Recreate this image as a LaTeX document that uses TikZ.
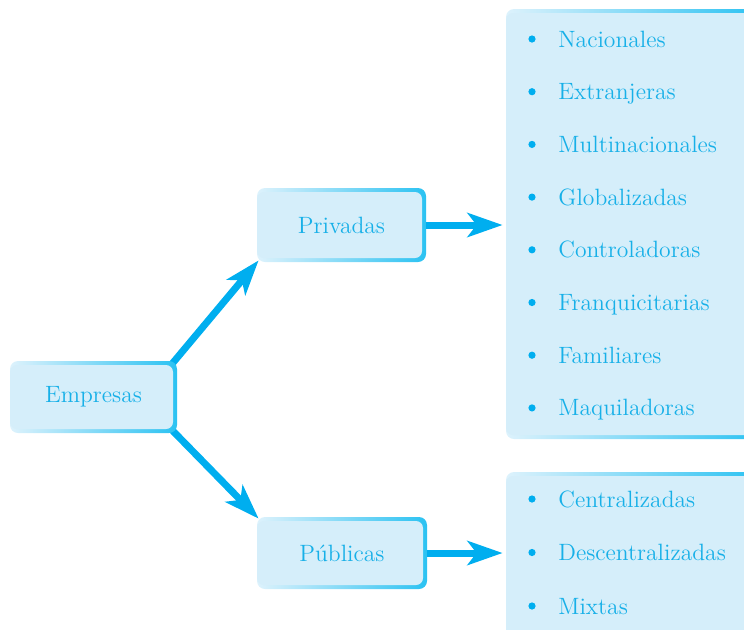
\documentclass[tikz,border=0pt]{standalone}
\usetikzlibrary{arrows.meta,backgrounds}
\definecolor{cyantxt}{HTML}{17B0E8}
\definecolor{arrowc}{HTML}{00AEEF}
\definecolor{boxfill}{HTML}{D5EEFA}
\definecolor{edgelight}{HTML}{DDF2FC}
\definecolor{edgedark}{HTML}{2BC2F2}
\tikzset{
  shadowbox/.style={rounded corners=4pt, inner sep=0pt,
    left color=edgelight, right color=edgedark,
    path picture={\fill[boxfill, rounded corners=3.5pt]
      ([yshift=2pt]path picture bounding box.south west) rectangle
      ([xshift=-2pt,yshift=-2pt]path picture bounding box.north east);},
    text=cyantxt, font=\fontsize{11.8}{14}\selectfont},
  itemtext/.style={anchor=base west, inner sep=0pt, text=cyantxt,
    font=\fontsize{11.8}{14}\selectfont},
  bulletdot/.style={circle, fill=arrowc, inner sep=0pt, minimum size=3.6pt},
  arr/.style={draw=arrowc, line width=3.5pt,
    -{Stealth[length=17.5pt, width=12pt, inset=4.5pt]}}
}
\begin{document}
\begin{tikzpicture}[x=0.5pt,y=-0.5pt]
\useasboundingbox (0,0) rectangle (744,629);
\clip (0,0) rectangle (744,629);
% boxes
\node[shadowbox, minimum width=83.5pt, minimum height=36pt] (emp) at (93.5,397) {Empresas};
\node[shadowbox, minimum width=84.5pt, minimum height=37pt] (priv) at (341.5,225) {Privadas};
\node[shadowbox, minimum width=85pt, minimum height=36pt] (pub) at (342,553) {Públicas};
\node[shadowbox, minimum width=127pt, minimum height=215pt] (listpriv) at (633,224) {};
\node[shadowbox, minimum width=127pt, minimum height=89pt] (listpub) at (633,561) {};
% connectors
\begin{scope}[on background layer]
\draw[arr] ([xshift=-3pt,yshift=-2pt]emp.north east) -- ([xshift=1pt,yshift=1pt]priv.south west);
\draw[arr] ([xshift=-3pt,yshift=2pt]emp.south east) -- ([xshift=1pt,yshift=-1pt]pub.north west);
\end{scope}
\draw[arr, shorten >=1.5pt] (priv.east) -- (priv.east -| listpriv.west);
\draw[arr, shorten >=1.5pt] (pub.east) -- (pub.east -| listpub.west);
% lists
\foreach \t [count=\i] in {Nacionales,Extranjeras,Multinacionales,Globalizadas,Controladoras,Franquicitarias,Familiares,Maquiladoras}{
  \node[itemtext] (pa\i) at (558,{47+52.7*(\i-1)}) {\t};
  \node[bulletdot] (pb\i) at (532,{39+52.7*(\i-1)}) {};
}
\foreach \t [count=\i] in {Centralizadas,Descentralizadas,Mixtas}{
  \node[itemtext] (qa\i) at (558,{507+53.5*(\i-1)}) {\t};
  \node[bulletdot] (qb\i) at (532,{499+53.5*(\i-1)}) {};
}
\end{tikzpicture}
\end{document}
